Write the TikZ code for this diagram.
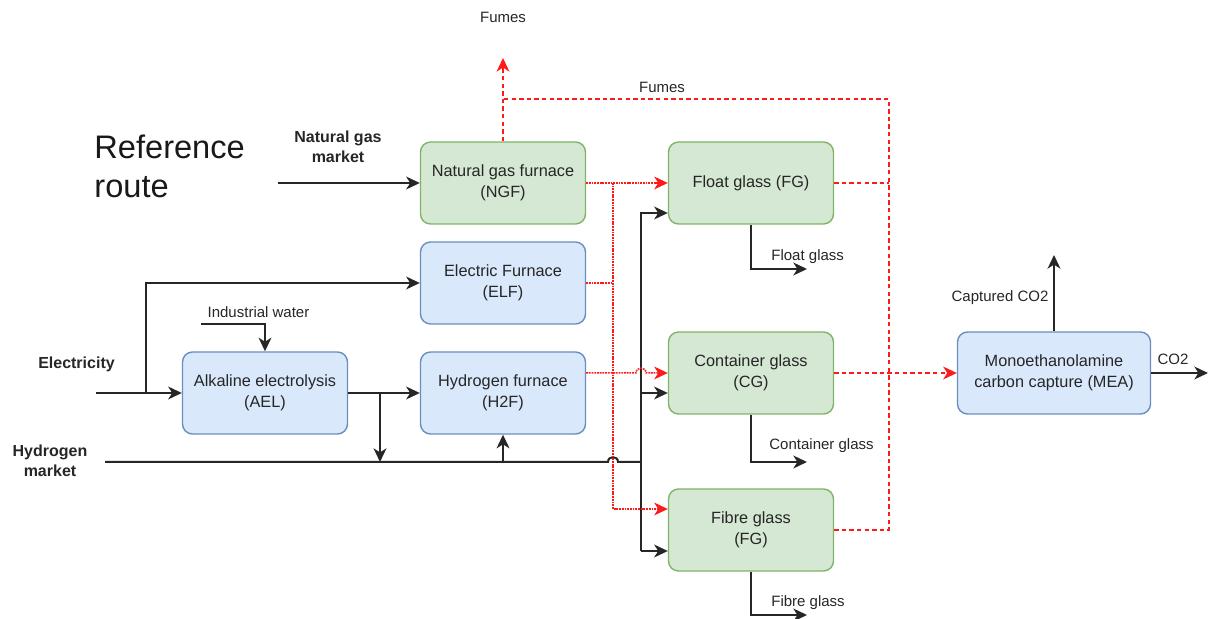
\documentclass[tikz,border=0pt]{standalone}
\usepackage{fontspec}
\setmainfont{Liberation Sans}
\usetikzlibrary{arrows.meta}
\definecolor{gfill}{HTML}{D5E8D4}
\definecolor{gline}{HTML}{82B366}
\definecolor{bfill}{HTML}{DAE8FC}
\definecolor{bline}{HTML}{6C8EBF}
\definecolor{fume}{HTML}{FF1A1A}
\tikzset{
  procbox/.style={rounded corners=5pt, line width=0.7pt, minimum width=82.5pt,
    minimum height=41pt, align=center, inner sep=2pt,
    font=\fontsize{8.15}{10.5}\selectfont, text=black!85},
  greenbox/.style={procbox, fill=gfill, draw=gline},
  bluebox/.style={procbox, fill=bfill, draw=bline},
  tip/.style={-{Stealth[length=6.8pt,width=6.4pt,inset=2pt]}},
  flow/.style={line width=1pt, draw=black!85},
  flowa/.style={flow, tip},
  rdot/.style={line width=0.75pt, draw=fume, dash pattern=on 0.9pt off 0.45pt},
  rdash/.style={line width=0.85pt, draw=fume, dash pattern=on 2.2pt off 1.6pt},
  rtip/.style={-{Stealth[length=6.8pt,width=6.4pt,inset=2pt,color=fume]}},
  lbl/.style={font=\fontsize{7.5}{9}\selectfont, text=black!85, inner sep=0pt},
  blbl/.style={font=\fontsize{8}{10.2}\selectfont\bfseries, text=black!85, align=center, inner sep=0pt},
}
\begin{document}
\begin{tikzpicture}[x=0.5pt,y=-0.5pt]
\useasboundingbox (0,0) rectangle (1209,619);

% process blocks
\node[greenbox] (ngf) at (503,183) {Natural gas furnace\\(NGF)};
\node[greenbox] (flt) at (751,183) {Float glass (FG)};
\node[bluebox]  (elf) at (503,283) {Electric Furnace\\(ELF)};
\node[bluebox]  (ael) at (265,393) {Alkaline electrolysis\\(AEL)};
\node[bluebox]  (h2f) at (503,393) {Hydrogen furnace\\(H2F)};
\node[greenbox] (cg)  at (751,373) {Container glass\\(CG)};
\node[greenbox] (fib) at (751,530) {Fibre glass\\(FG)};
\node[bluebox, minimum width=96.5pt] (mea) at (1054,373) {Monoethanolamine\\carbon capture (MEA)};

% free ends and junctions
\coordinate (ngin) at (278,183);
\coordinate (elin) at (96,393);
\coordinate (elbr) at (146,393);
\coordinate (hyin) at (105,462);
\coordinate (wat)  at (201,324);
\coordinate (aelbr) at (380,393);
\coordinate (aelh) at (380,462);
\coordinate (busT) at (641,213);
\coordinate (busM) at (641,393);
\coordinate (busH) at (641,462);
\coordinate (busB) at (641,551);
\coordinate (redV) at (613,183);
\coordinate (redB) at (613,509);
\coordinate (fumT) at (503,58);
\coordinate (fumL) at (503,99);
\coordinate (fumR) at (889,99);
\coordinate (fumD) at (889,530);
\coordinate (fltout) at (807,269);
\coordinate (cgout) at (807,462);
\coordinate (fibout) at (807,615);
\coordinate (capt) at (1054,255);
\coordinate (co2) at (1208,373);

% inputs
\draw[flowa] (ngin) -- (ngf.west);
\draw[flowa] (elin) -- (ael.west);
\draw[flowa] (elbr) |- (elf.west);
\draw[flowa] (wat) -| (ael.north);
\draw[flowa] (ael.east) -- (h2f.west);
\draw[flowa] (aelbr) -- (aelh);
\draw[flowa] (h2f.south |- hyin) -- (h2f.south);
\draw[flow] (hyin) -- (608,462) .. controls (608,455.5) and (618,455.5) .. (618,462) -- (busH);

% feed bus to the glass lines
\draw[flowa] (busB) -- (busT) -- (busT -| flt.west);
\draw[flowa] (busM) -- (busM -| cg.west);
\draw[flowa] (busB) -- (busB -| fib.west);

% heat from the furnaces
\draw[rdot, rtip] (ngf.east) -- (flt.west);
\draw[rdot, rtip] (redV) -- (redB) -- (redB -| fib.west);
\draw[rdot] (elf.east) -- (elf.east -| redV);
\draw[rdot, rtip] (cg.west -| h2f.east) -- (636,373) .. controls (636,366.5) and (646,366.5) .. (646,373) -- (cg.west);

% fumes
\draw[rdash, rtip] (ngf.north) -- (fumT);
\draw[rdash] (fib.east) -- (fumD) -- (fumR) -- (fumL);
\draw[rdash] (flt.east) -- (flt.east -| fumR);
\draw[rdash, rtip] (cg.east) -- (mea.west);

% products
\draw[flowa] (flt.south) |- (fltout);
\draw[flowa] (cg.south) |- (cgout);
\draw[flowa] (fib.south) |- (fibout);
\draw[flowa] (mea.north) -- (capt);
\draw[flowa] (mea.east) -- (co2);

% labels
\node[inner sep=0pt, anchor=west, align=left, font=\fontsize{16.3}{19.7}\selectfont, text=black!90] (title) at (94,166.5) {Reference\\route};
\node[blbl] (lng) at (338,146.5) {Natural gas\\market};
\node[blbl] (lel) at (76.5,364) {Electricity};
\node[blbl] (lhy) at (50,460.5) {Hydrogen\\market};
\node[lbl] (lwat) at (258.5,312) {Industrial water};
\node[lbl] (lf1) at (503,17) {Fumes};
\node[lbl] (lf2) at (662,87) {Fumes};
\node[lbl, anchor=west] (lflt) at (771,257) {Float glass};
\node[lbl] (lcg) at (821.5,446) {Container glass};
\node[lbl, anchor=west] (lfib) at (771,603) {Fibre glass};
\node[lbl] (lcap) at (1000,298) {Captured CO2};
\node[lbl] (lco2) at (1173,359) {CO2};
\end{tikzpicture}
\end{document}
